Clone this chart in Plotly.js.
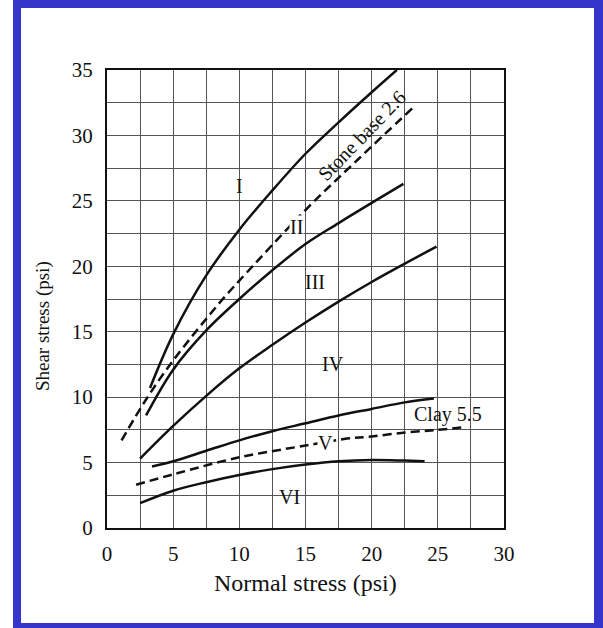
<!DOCTYPE html>
<html>
<head>
<meta charset="utf-8">
<script src="https://cdn.plot.ly/plotly-3.0.1.min.js"></script>
<style>
  html, body { margin: 0; padding: 0; background: #ffffff; }
  #chart { width: 603px; height: 628px; }
  #frame {
    position: absolute; left: 13px; top: 0; width: 573px; height: 615px;
    border-style: solid; border-color: #3535cc;
    border-width: 8px 9px 5px 8px;
    pointer-events: none;
  }
</style>
</head>
<body>
<div id="chart"></div>
<div id="frame"></div>
<script>
// Shear strength envelopes: shear stress vs normal stress (psi)
const curveI_x = [3.25, 5, 7.5, 10, 12.5, 15, 17.5, 20, 21.9];
const curveI_y = [10.7, 14.8, 19.3, 22.8, 25.8, 28.6, 31.0, 33.3, 35.0];

const curveII_x = [2.95, 5, 7.5, 10, 12.5, 15, 17.5, 20, 22.4];
const curveII_y = [8.6, 12.1, 15.1, 17.5, 19.7, 21.7, 23.3, 24.85, 26.3];

const curveIII_x = [2.5, 5, 7.5, 10, 12.5, 15, 17.5, 20, 22.5, 24.9];
const curveIII_y = [5.3, 7.8, 10.1, 12.2, 14.0, 15.7, 17.3, 18.8, 20.2, 21.5];

const curveIV_x = [3.4, 5, 7.5, 10, 12.5, 15, 17.5, 20, 22.5, 24.7];
const curveIV_y = [4.7, 5.1, 5.9, 6.7, 7.4, 8.0, 8.6, 9.1, 9.6, 9.9];

const curveVI_x = [2.5, 5, 7.5, 10, 12.5, 15, 17.5, 20, 22.5, 24];
const curveVI_y = [1.9, 2.85, 3.5, 4.05, 4.5, 4.85, 5.1, 5.2, 5.15, 5.1];

const stoneBase_x = [1.1, 3, 5, 8.5, 10, 15, 19, 23.1];
const stoneBase_y = [6.7, 9.9, 12.8, 17.2, 18.9, 24.3, 28.2, 32.1];

const clay_x = [2.2, 5, 10, 15, 17.9, 20, 22.6, 25, 27];
const clay_y = [3.3, 4.1, 5.4, 6.3, 6.8, 7.0, 7.3, 7.5, 7.7];

// Curve labels placed in data coordinates
const labelText = ['I', 'II', 'III', 'IV', 'V', 'VI', 'Clay 5.5', 'Stone base 2.6'];
const labelX = [10.0, 14.3, 15.7, 17.1, 16.5, 13.8, 25.8, 19.3];
const labelY = [26.1, 23.0, 18.8, 12.5, 6.5, 2.4, 8.7, 30.0];

const serif = 'Liberation Serif, Times New Roman, serif';

function solid(x, y, name) {
  return { x: x, y: y, name: name, type: 'scatter', mode: 'lines',
           line: { color: '#111', width: 2.5, shape: 'spline', smoothing: 1 } };
}
function dashed(x, y, name) {
  return { x: x, y: y, name: name, type: 'scatter', mode: 'lines',
           line: { color: '#111', width: 2.5, dash: '9px,5px', shape: 'spline', smoothing: 1 } };
}

const traces = [
  solid(curveI_x, curveI_y, 'I'),
  solid(curveII_x, curveII_y, 'II'),
  solid(curveIII_x, curveIII_y, 'III'),
  solid(curveIV_x, curveIV_y, 'IV'),
  solid(curveVI_x, curveVI_y, 'VI'),
  dashed(stoneBase_x, stoneBase_y, 'Stone base 2.6'),
  dashed(clay_x, clay_y, 'Clay 5.5')
];

const annotations = labelText.map(function (t, i) {
  const a = { x: labelX[i], y: labelY[i], xref: 'x', yref: 'y', text: t,
              showarrow: false, font: { family: serif, size: 20, color: '#111' } };
  if (t === 'Stone base 2.6') { a.textangle = -46; }
  if (t === 'V' || t === 'II') { a.bgcolor = '#ffffff'; a.borderpad = 0; }
  return a;
});

// Axis titles
annotations.push({
  x: 0.5, y: -0.121, xref: 'paper', yref: 'paper', text: 'Normal stress (psi)',
  showarrow: false, yanchor: 'middle', font: { family: serif, size: 24, color: '#111' }
});
annotations.push({
  x: -0.161, y: 0.441, xref: 'paper', yref: 'paper', text: 'Shear stress (psi)',
  textangle: -90, showarrow: false, xanchor: 'center', yanchor: 'middle',
  font: { family: serif, size: 19, color: '#111' }
});

const axisCommon = {
  showline: true, linecolor: '#111', linewidth: 2, mirror: true,
  showgrid: true, gridcolor: '#555', gridwidth: 1,
  zeroline: false, ticks: '', dtick: 5,
  tickfont: { family: serif, size: 21, color: '#111' },
  minor: { dtick: 2.5, showgrid: true, gridcolor: '#555', gridwidth: 1 }
};

const layout = {
  width: 603, height: 628,
  margin: { l: 107, r: 99, t: 70, b: 100 },
  paper_bgcolor: '#ffffff', plot_bgcolor: '#ffffff',
  showlegend: false,
  xaxis: Object.assign({}, axisCommon, { range: [0, 30], tick0: 0, ticklabelstandoff: 6 }),
  yaxis: Object.assign({}, axisCommon, { range: [0, 35], tick0: 0, ticklabelstandoff: 8 }),
  annotations: annotations
};

Plotly.newPlot('chart', traces, layout, { staticPlot: true, displayModeBar: false });
</script>
</body>
</html>
